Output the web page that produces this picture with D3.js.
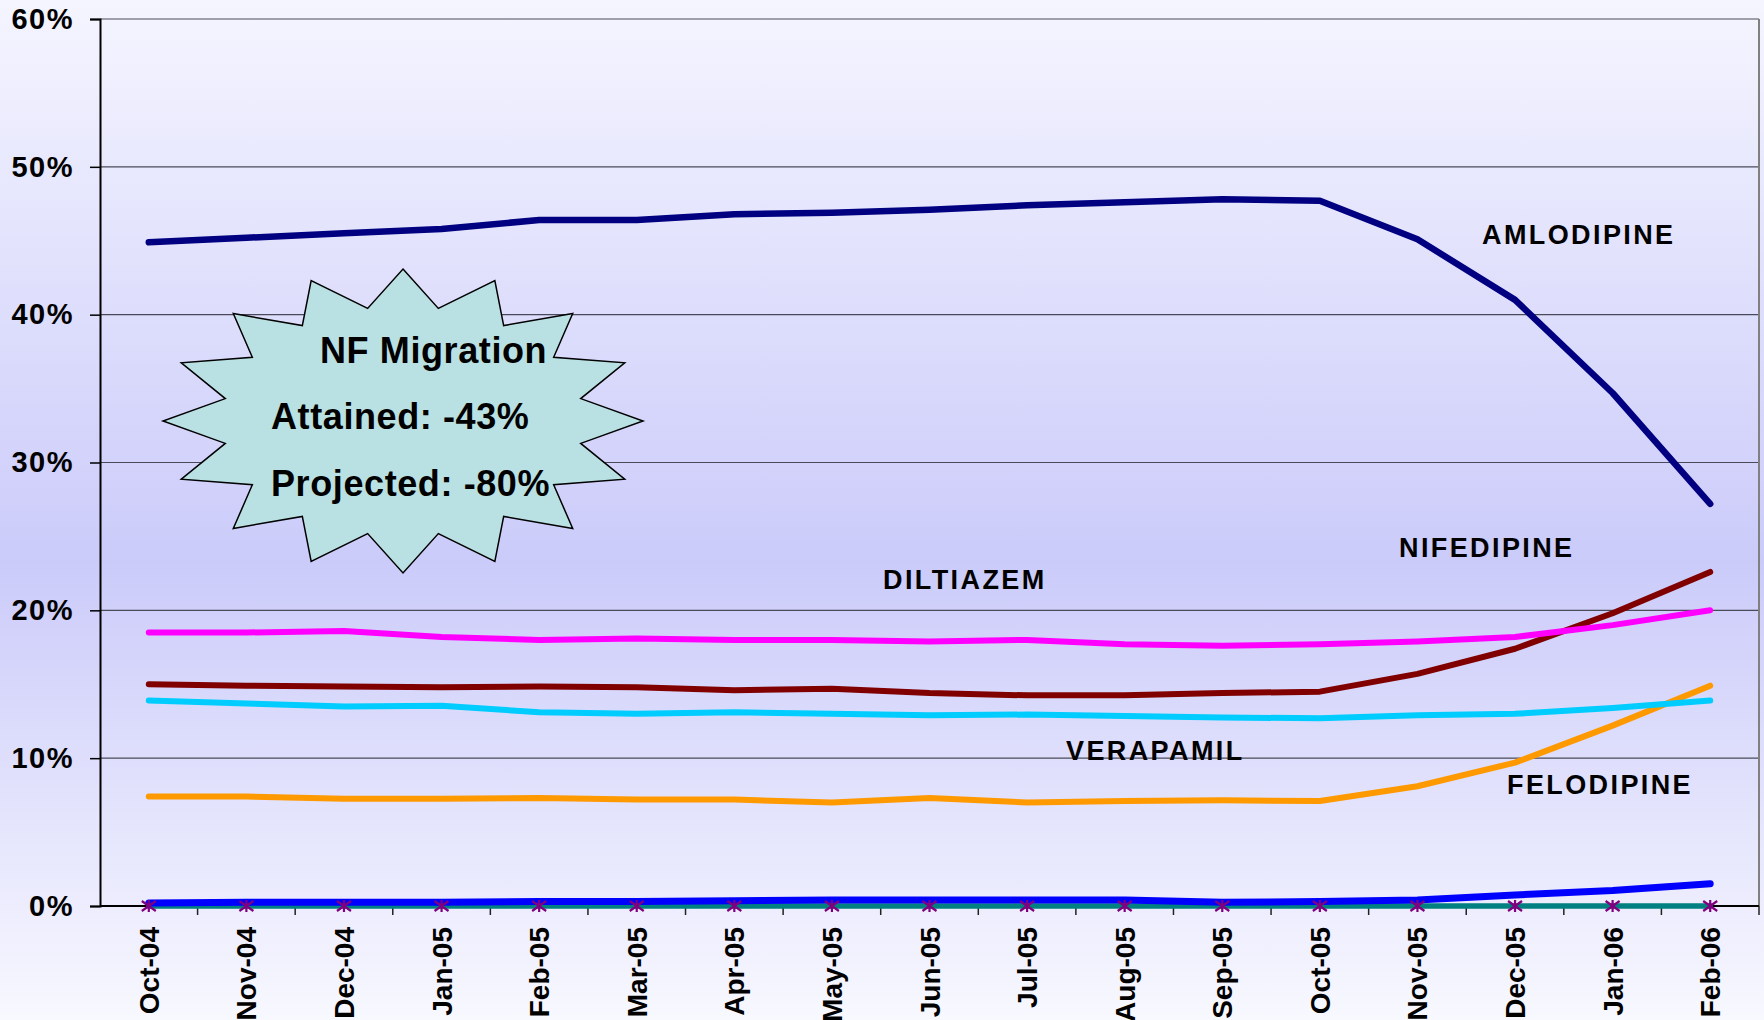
<!DOCTYPE html>
<html>
<head>
<meta charset="utf-8">
<script src="https://cdn.jsdelivr.net/npm/d3@7"></script>
<style>
  body { margin: 0; padding: 0; }
  svg { display: block; font-family: "Liberation Sans", Arial, sans-serif; }
</style>
</head>
<body>
<div id="chart"></div>
<script>
// months on the x axis
const months = ["Oct-04","Nov-04","Dec-04","Jan-05","Feb-05","Mar-05","Apr-05","May-05","Jun-05",
                "Jul-05","Aug-05","Sep-05","Oct-05","Nov-05","Dec-05","Jan-06","Feb-06"];
const yTicks = [0, 10, 20, 30, 40, 50, 60];

// share of prescriptions (%)
const amlodipine = [44.9,45.2,45.5,45.8,46.4,46.4,46.8,46.9,47.1,47.4,47.6,47.8,47.7,45.1,41.0,34.7,27.2];
const diltiazem  = [18.5,18.5,18.6,18.2,18.0,18.1,18.0,18.0,17.9,18.0,17.7,17.6,17.7,17.9,18.2,19.0,20.0];
const nifedipine = [15.0,14.9,14.85,14.8,14.85,14.8,14.6,14.7,14.4,14.25,14.25,14.4,14.5,15.7,17.4,19.8,22.6];
const verapamil  = [13.9,13.7,13.5,13.55,13.1,13.0,13.1,13.0,12.9,12.95,12.85,12.75,12.7,12.9,13.0,13.4,13.9];
const felodipine = [7.4,7.4,7.25,7.25,7.3,7.2,7.2,7.0,7.3,7.0,7.1,7.15,7.1,8.1,9.7,12.2,14.9];
const blueSeries = [0.2,0.25,0.25,0.25,0.3,0.3,0.35,0.4,0.4,0.4,0.4,0.25,0.3,0.4,0.75,1.05,1.5];
const tealSeries = [0,0,0,0,0,0,0,0,0,0,0,0,0,0,0,0,0];
const starSeries = [0,0,0,0,0,0,0,0,0,0,0,0,0,0,0,0,0];

const W = 1764, H = 1020;
const plot = { left: 100, right: 1759, top: 19, bottom: 906 };

const svg = d3.select("#chart").append("svg")
  .attr("width", W).attr("height", H);

// background gradient
const defs = svg.append("defs");
const grad = defs.append("linearGradient").attr("id", "bg")
  .attr("x1", 0).attr("y1", 0).attr("x2", 0).attr("y2", 1);
grad.append("stop").attr("offset", "0%").attr("stop-color", "#f5f5ff");
grad.append("stop").attr("offset", "55%").attr("stop-color", "#cbcbfa");
grad.append("stop").attr("offset", "100%").attr("stop-color", "#f8f8ff");
svg.append("rect").attr("width", W).attr("height", H).attr("fill", "url(#bg)");

const x = d3.scaleBand().domain(months).range([plot.left, plot.right]);
const y = d3.scaleLinear().domain([0, 60]).range([plot.bottom, plot.top]);
const cx = d => x(d) + x.bandwidth() / 2;

// gridlines
svg.append("g").selectAll("line")
  .data(yTicks.filter(d => d > 0))
  .enter().append("line")
  .attr("x1", plot.left).attr("x2", plot.right)
  .attr("y1", d => y(d)).attr("y2", d => y(d))
  .attr("stroke", "#4a4a5a").attr("stroke-width", 1.2);

// right border of plot area
svg.append("line")
  .attr("x1", plot.right).attr("x2", plot.right)
  .attr("y1", plot.top).attr("y2", plot.bottom)
  .attr("stroke", "#808080").attr("stroke-width", 2);

// y axis
const yAxis = svg.append("g")
  .attr("transform", `translate(${plot.left},0)`)
  .call(d3.axisLeft(y).tickValues(yTicks).tickSize(10).tickPadding(16)
    .tickFormat(d => d + "%"));
yAxis.select(".domain").attr("stroke", "#000").attr("stroke-width", 2);
yAxis.selectAll(".tick line").attr("stroke", "#000").attr("stroke-width", 1.5);
yAxis.selectAll(".tick text")
  .attr("font-size", 29).attr("font-weight", "bold").attr("fill", "#000")
  .attr("letter-spacing", 1.5)
  .attr("font-family", "'Liberation Sans', Arial, sans-serif");

// x axis (ticks sit between months)
const xAxis = svg.append("g").attr("transform", `translate(0,${plot.bottom})`);
xAxis.append("line")
  .attr("x1", plot.left).attr("x2", plot.right)
  .attr("stroke", "#000").attr("stroke-width", 2);
xAxis.selectAll(".sep")
  .data(months.slice(1).concat(["_end"]))
  .enter().append("line")
  .attr("x1", d => d === "_end" ? plot.right : x(d))
  .attr("x2", d => d === "_end" ? plot.right : x(d))
  .attr("y1", 0).attr("y2", 9)
  .attr("stroke", "#222").attr("stroke-width", 1.5);
xAxis.selectAll(".lbl")
  .data(months)
  .enter().append("text")
  .attr("transform", d => `translate(${cx(d) + 10},21) rotate(-90)`)
  .attr("text-anchor", "end")
  .attr("font-size", 28).attr("font-weight", "bold")
  .text(d => d);

// lines
const line = d3.line().x((d, i) => cx(months[i])).y(d => y(d));
const series = [
  { values: tealSeries, color: "#008080", width: 5.5 },
  { values: blueSeries, color: "#0000ff", width: 7 },
  { values: felodipine, color: "#ff9900", width: 6 },
  { values: verapamil,  color: "#00ccff", width: 6 },
  { values: nifedipine, color: "#800000", width: 6 },
  { values: diltiazem,  color: "#ff00ff", width: 6 },
  { values: amlodipine, color: "#000080", width: 6.5 }
];
svg.append("g").selectAll("path")
  .data(series)
  .enter().append("path")
  .attr("d", d => line(d.values))
  .attr("fill", "none")
  .attr("stroke", d => d.color)
  .attr("stroke-width", d => d.width)
  .attr("stroke-linecap", "round")
  .attr("stroke-linejoin", "round");

// asterisk markers
const star = "M-7,-5L7,5M-7,5L7,-5M0,-6L0,6";
svg.append("g").selectAll("path")
  .data(starSeries)
  .enter().append("path")
  .attr("transform", (d, i) => `translate(${cx(months[i])},${y(d)})`)
  .attr("d", star)
  .attr("stroke", "#800080").attr("stroke-width", 2.2).attr("fill", "none");

// series labels
const labels = [
  { text: "AMLODIPINE", x: 1482, y: 244 },
  { text: "NIFEDIPINE", x: 1399, y: 557 },
  { text: "DILTIAZEM",  x: 883,  y: 589 },
  { text: "VERAPAMIL",  x: 1066, y: 760 },
  { text: "FELODIPINE", x: 1507, y: 794 }
];
svg.append("g").selectAll("text")
  .data(labels)
  .enter().append("text")
  .attr("x", d => d.x).attr("y", d => d.y)
  .attr("font-size", 27).attr("font-weight", "bold")
  .attr("letter-spacing", 2.4)
  .text(d => d.text);

// starburst callout
const burst = { cx: 403, cy: 421, rx: 240, ry: 152, points: 16, inner: 0.755 };
const burstPts = d3.range(burst.points * 2).map(i => {
  const a = i * Math.PI / burst.points;
  const r = i % 2 === 0 ? 1 : burst.inner;
  return [burst.cx + Math.sin(a) * burst.rx * r, burst.cy - Math.cos(a) * burst.ry * r];
});
svg.append("polygon")
  .attr("points", burstPts.map(p => p.join(",")).join(" "))
  .attr("fill", "#b9e0e2").attr("stroke", "#000").attr("stroke-width", 1.5);

const calloutText = [
  { text: "NF Migration", x: 320, y: 363 },
  { text: "Attained: -43%", x: 271, y: 429 },
  { text: "Projected: -80%", x: 271, y: 496 }
];
svg.append("g").selectAll("text")
  .data(calloutText)
  .enter().append("text")
  .attr("x", d => d.x).attr("y", d => d.y)
  .attr("font-size", 36).attr("font-weight", "bold")
  .attr("letter-spacing", 0.6)
  .text(d => d.text);
</script>
</body>
</html>
